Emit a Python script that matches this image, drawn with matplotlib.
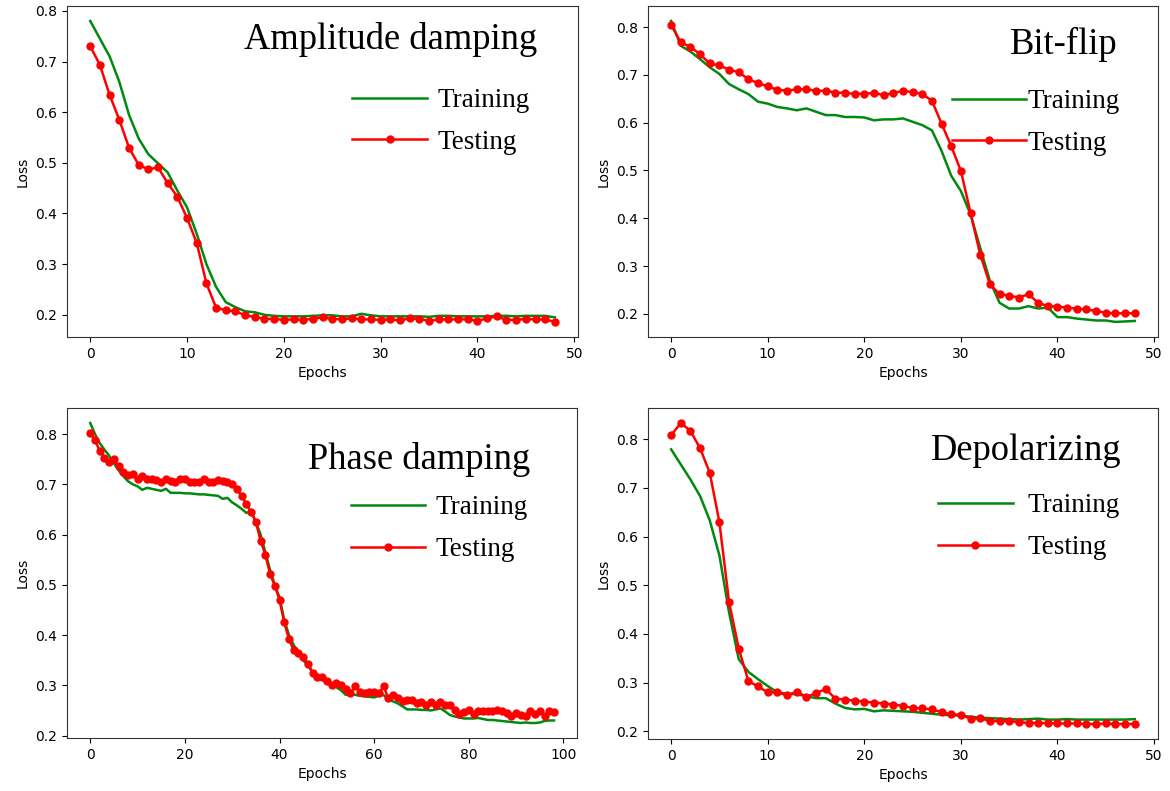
import numpy as np
import matplotlib.pyplot as plt

# ---- loss curves (training / testing) for each noise channel ----
amp_train = [0.780, 0.745, 0.710, 0.660, 0.595, 0.548, 0.517, 0.499, 0.481, 0.445,
             0.412, 0.360, 0.300, 0.255, 0.225, 0.215, 0.207, 0.205, 0.200, 0.198,
             0.197, 0.197, 0.197, 0.198, 0.199, 0.199, 0.197, 0.197, 0.202, 0.199,
             0.197, 0.197, 0.197, 0.197, 0.197, 0.196, 0.198, 0.198, 0.197, 0.197,
             0.197, 0.197, 0.198, 0.198, 0.197, 0.198, 0.198, 0.198, 0.195]
amp_test = [0.730, 0.693, 0.634, 0.585, 0.530, 0.496, 0.487, 0.491, 0.460, 0.433,
            0.391, 0.342, 0.262, 0.214, 0.209, 0.207, 0.199, 0.196, 0.192, 0.192,
            0.190, 0.191, 0.190, 0.192, 0.195, 0.192, 0.191, 0.193, 0.191, 0.191,
            0.190, 0.191, 0.189, 0.193, 0.192, 0.188, 0.191, 0.191, 0.191, 0.191,
            0.188, 0.193, 0.197, 0.190, 0.190, 0.192, 0.191, 0.191, 0.186]

bit_train = [0.813, 0.761, 0.749, 0.733, 0.716, 0.702, 0.681, 0.670, 0.660, 0.644,
             0.640, 0.633, 0.630, 0.626, 0.630, 0.623, 0.616, 0.616, 0.612, 0.612,
             0.611, 0.605, 0.607, 0.607, 0.609, 0.602, 0.595, 0.584, 0.541, 0.489,
             0.457, 0.408, 0.338, 0.269, 0.223, 0.211, 0.211, 0.216, 0.211, 0.213,
             0.193, 0.193, 0.190, 0.188, 0.186, 0.186, 0.183, 0.184, 0.185]
bit_test = [0.805, 0.768, 0.759, 0.743, 0.724, 0.720, 0.711, 0.706, 0.691, 0.683,
            0.676, 0.669, 0.667, 0.670, 0.670, 0.667, 0.667, 0.663, 0.663, 0.660,
            0.661, 0.662, 0.658, 0.662, 0.667, 0.664, 0.660, 0.646, 0.598, 0.551,
            0.499, 0.411, 0.324, 0.262, 0.241, 0.238, 0.234, 0.241, 0.223, 0.216,
            0.215, 0.213, 0.211, 0.209, 0.206, 0.202, 0.201, 0.201, 0.201]

phase_train = [0.822, 0.800, 0.782, 0.769, 0.757, 0.742, 0.728, 0.716, 0.706, 0.700,
               0.696, 0.689, 0.693, 0.691, 0.689, 0.687, 0.691, 0.683, 0.683, 0.683,
               0.682, 0.682, 0.681, 0.680, 0.680, 0.679, 0.678, 0.677, 0.671, 0.673,
               0.664, 0.658, 0.651, 0.643, 0.647, 0.625, 0.600, 0.565, 0.530, 0.500,
               0.475, 0.430, 0.400, 0.380, 0.365, 0.350, 0.340, 0.326, 0.318, 0.312,
               0.305, 0.300, 0.296, 0.290, 0.281, 0.283, 0.281, 0.279, 0.278, 0.277,
               0.276, 0.279, 0.281, 0.271, 0.268, 0.264, 0.258, 0.252, 0.252, 0.252,
               0.251, 0.251, 0.250, 0.252, 0.254, 0.248, 0.241, 0.238, 0.236, 0.234,
               0.234, 0.234, 0.235, 0.233, 0.231, 0.231, 0.230, 0.229, 0.228, 0.227,
               0.226, 0.225, 0.226, 0.225, 0.225, 0.226, 0.229, 0.230, 0.230]
phase_test = [0.802, 0.788, 0.767, 0.752, 0.744, 0.750, 0.736, 0.724, 0.719, 0.721,
              0.711, 0.716, 0.710, 0.710, 0.709, 0.704, 0.711, 0.706, 0.704, 0.710,
              0.710, 0.704, 0.704, 0.705, 0.710, 0.704, 0.705, 0.708, 0.706, 0.705,
              0.701, 0.690, 0.677, 0.660, 0.645, 0.625, 0.588, 0.560, 0.522, 0.498,
              0.470, 0.425, 0.392, 0.370, 0.365, 0.357, 0.343, 0.325, 0.316, 0.317,
              0.309, 0.300, 0.304, 0.300, 0.292, 0.285, 0.298, 0.287, 0.285, 0.287,
              0.287, 0.284, 0.298, 0.274, 0.281, 0.274, 0.269, 0.270, 0.270, 0.264,
              0.267, 0.261, 0.267, 0.261, 0.267, 0.261, 0.261, 0.251, 0.243, 0.247,
              0.251, 0.243, 0.248, 0.248, 0.248, 0.249, 0.251, 0.249, 0.245, 0.239,
              0.244, 0.241, 0.239, 0.248, 0.243, 0.248, 0.239, 0.248, 0.247]

depol_train = [0.779, 0.748, 0.717, 0.683, 0.633, 0.561, 0.444, 0.348, 0.322, 0.307,
               0.293, 0.280, 0.277, 0.276, 0.272, 0.268, 0.268, 0.257, 0.248, 0.245,
               0.246, 0.241, 0.243, 0.242, 0.241, 0.240, 0.238, 0.236, 0.234, 0.233,
               0.232, 0.230, 0.228, 0.227, 0.226, 0.225, 0.224, 0.225, 0.226, 0.224,
               0.224, 0.225, 0.224, 0.224, 0.224, 0.224, 0.224, 0.224, 0.225]
depol_test = [0.808, 0.833, 0.817, 0.781, 0.731, 0.629, 0.465, 0.370, 0.303, 0.292,
              0.280, 0.280, 0.274, 0.281, 0.271, 0.278, 0.287, 0.267, 0.265, 0.263,
              0.261, 0.259, 0.257, 0.255, 0.252, 0.248, 0.247, 0.245, 0.239, 0.235,
              0.234, 0.226, 0.227, 0.221, 0.221, 0.221, 0.219, 0.217, 0.217, 0.217,
              0.216, 0.216, 0.216, 0.215, 0.215, 0.216, 0.215, 0.215, 0.215]

names = ["Amplitude damping", "Bit-flip", "Phase damping", "Depolarizing"]
train_sets = [amp_train, bit_train, phase_train, depol_train]
test_sets = [amp_test, bit_test, phase_test, depol_test]

# axes rectangles in figure fractions
rects = [[0.0573, 0.574, 0.4368, 0.4185],
         [0.5538, 0.574, 0.4359, 0.4185],
         [0.0573, 0.067, 0.4360, 0.4172],
         [0.5538, 0.0657, 0.4359, 0.4185]]
# name text (right x, baseline y) and legend anchor (right x, top y), axes coords
name_pos = [(0.92, 0.870), (0.92, 0.855), (0.908, 0.815), (0.929, 0.842)]
leg_pos = [(0.906, 0.752), (0.925, 0.749), (0.904, 0.735), (0.925, 0.742)]
leg_pad = [0.4, 0.05, 0.4, 0.55]

serif = "Liberation Serif"

fig = plt.figure(figsize=(11.7, 7.91), dpi=100)
for i in range(4):
    ax = fig.add_axes(rects[i])
    tr = np.array(train_sets[i])
    te = np.array(test_sets[i])
    ax.plot(np.arange(len(tr)), tr, color="#008a10", lw=1.8, label="Training")
    ax.plot(np.arange(len(te)), te, color="red", lw=1.8, marker="o", ms=5,
            label="Testing")
    ax.set_xlabel("Epochs", fontsize=10)
    ax.set_ylabel("Loss", fontsize=10)
    ax.tick_params(labelsize=10)
    for sp in ax.spines.values():
        sp.set_color("#333333")
    ax.text(name_pos[i][0], name_pos[i][1], names[i], transform=ax.transAxes,
            ha="right", va="baseline", fontsize=26.3, family=serif)
    ax.legend(loc="upper right", bbox_to_anchor=leg_pos[i], frameon=False,
              borderpad=0, borderaxespad=0, handlelength=2.75,
              handletextpad=leg_pad[i], labelspacing=0.62,
              prop={"family": serif, "size": 19.5})

fig.savefig("out.png", dpi=100)
